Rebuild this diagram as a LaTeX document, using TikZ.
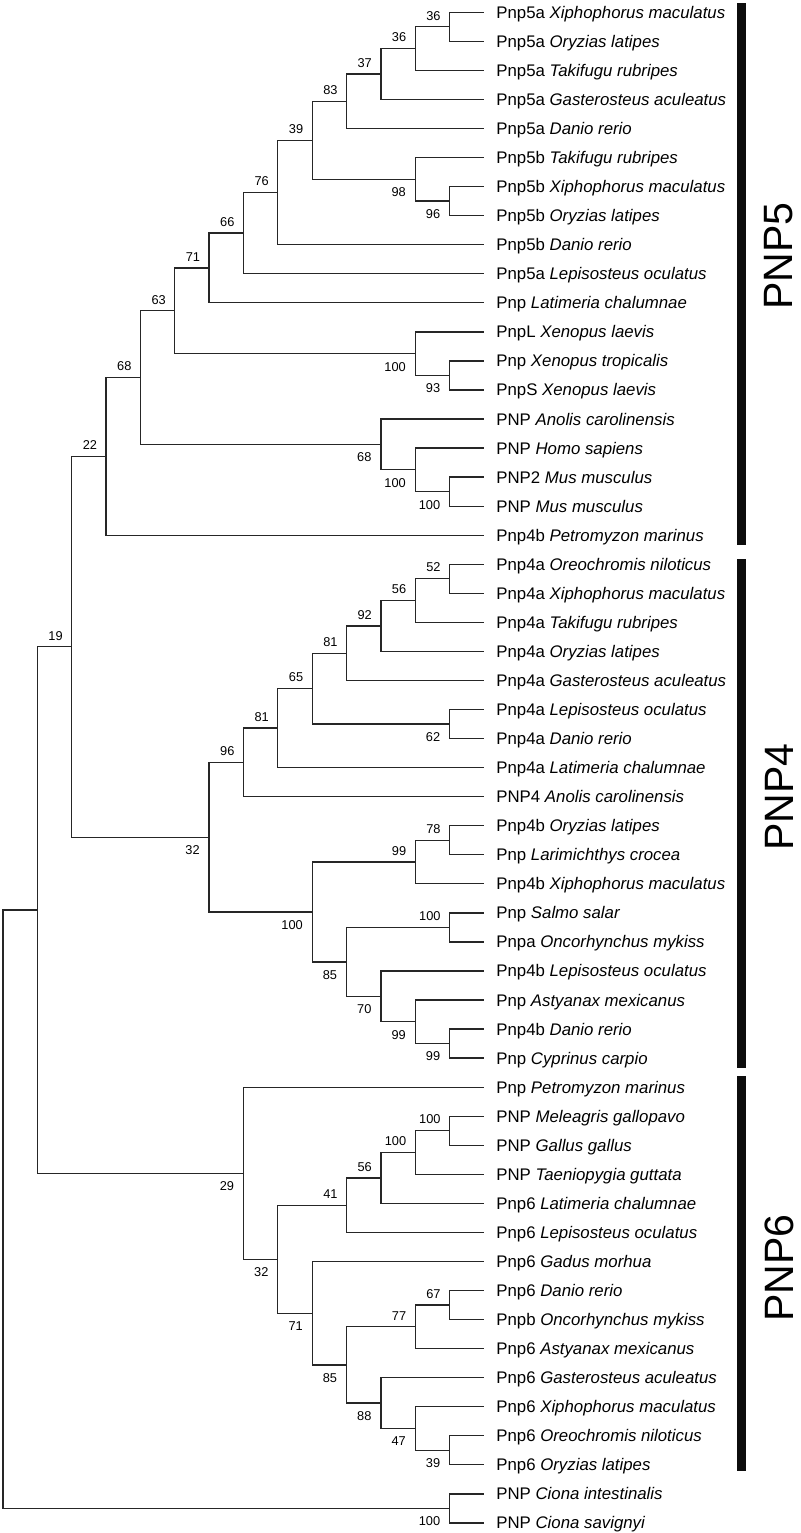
\documentclass[tikz,border=0pt]{standalone}
\usepackage{fontspec}
\setmainfont{Liberation Sans}
\usepackage{tikz}
\usetikzlibrary{calc}

% inner node at a given level, halfway between its two children
\newcommand{\joint}[4]{%
	\path let \p1 = ($(#3)!0.5!(#4)$), \p2 = ({3+#2*34.35},0) in (\x2,\y1) coordinate (#1);
	\draw[branch] (#1) |- (#3);
	\draw[branch] (#1) |- (#4);
}
% same, with its bootstrap value
\newcommand{\clade}[6]{%
	\joint{#1}{#2}{#3}{#4}
	\node[#6] (#1v) at (#1) {#5};
}

\begin{document}
\begin{tikzpicture}[
		x=0.5pt,
		y=-0.5pt,
		branch/.style={line width=0.65pt, black!85},
		leaf/.style={anchor=base west, inner sep=0pt, xshift=6pt, yshift=-3pt, font=\fontsize{8.4}{10}\selectfont},
		boot up/.style={anchor=east, inner sep=0pt, xshift=-4.3pt, yshift=5.6pt, font=\fontsize{6.4}{7}\selectfont},
		boot down/.style={anchor=east, inner sep=0pt, xshift=-4.5pt, yshift=-6.5pt, font=\fontsize{6.4}{7}\selectfont},
		group/.style={rotate=90, inner sep=0pt, font=\fontsize{20.5}{22}\selectfont},
		bar/.style={fill=black!95}
		]
	\useasboundingbox (0,0) rectangle (800,1533);

	% Leaves
	\foreach \i/\gene/\spec in {
		1/Pnp5a/Xiphophorus maculatus, 2/Pnp5a/Oryzias latipes, 3/Pnp5a/Takifugu rubripes,
		4/Pnp5a/Gasterosteus aculeatus, 5/Pnp5a/Danio rerio, 6/Pnp5b/Takifugu rubripes,
		7/Pnp5b/Xiphophorus maculatus, 8/Pnp5b/Oryzias latipes, 9/Pnp5b/Danio rerio,
		10/Pnp5a/Lepisosteus oculatus, 11/Pnp/Latimeria chalumnae, 12/PnpL/Xenopus laevis,
		13/Pnp/Xenopus tropicalis, 14/PnpS/Xenopus laevis, 15/PNP/Anolis carolinensis,
		16/PNP/Homo sapiens, 17/PNP2/Mus musculus, 18/PNP/Mus musculus,
		19/Pnp4b/Petromyzon marinus, 20/Pnp4a/Oreochromis niloticus, 21/Pnp4a/Xiphophorus maculatus,
		22/Pnp4a/Takifugu rubripes, 23/Pnp4a/Oryzias latipes, 24/Pnp4a/Gasterosteus aculeatus,
		25/Pnp4a/Lepisosteus oculatus, 26/Pnp4a/Danio rerio, 27/Pnp4a/Latimeria chalumnae,
		28/PNP4/Anolis carolinensis, 29/Pnp4b/Oryzias latipes, 30/Pnp/Larimichthys crocea,
		31/Pnp4b/Xiphophorus maculatus, 32/Pnp/Salmo salar, 33/Pnpa/Oncorhynchus mykiss,
		34/Pnp4b/Lepisosteus oculatus, 35/Pnp/Astyanax mexicanus, 36/Pnp4b/Danio rerio,
		37/Pnp/Cyprinus carpio, 38/Pnp/Petromyzon marinus, 39/PNP/Meleagris gallopavo,
		40/PNP/Gallus gallus, 41/PNP/Taeniopygia guttata, 42/Pnp6/Latimeria chalumnae,
		43/Pnp6/Lepisosteus oculatus, 44/Pnp6/Gadus morhua, 45/Pnp6/Danio rerio,
		46/Pnpb/Oncorhynchus mykiss, 47/Pnp6/Astyanax mexicanus, 48/Pnp6/Gasterosteus aculeatus,
		49/Pnp6/Xiphophorus maculatus, 50/Pnp6/Oreochromis niloticus, 51/Pnp6/Oryzias latipes,
		52/PNP/Ciona intestinalis, 53/PNP/Ciona savignyi}{
		\coordinate (t\i) at (484, {12.3+(\i-1)*29.05});
		\node[leaf] (n\i) at (t\i) {\gene\ \textit{\spec}};
	}

	% PNP5
	\clade{c1}{13}{t1}{t2}{36}{boot up}
	\clade{c2}{12}{c1}{t3}{36}{boot up}
	\clade{c3}{11}{c2}{t4}{37}{boot up}
	\clade{c4}{10}{c3}{t5}{83}{boot up}
	\clade{c5}{13}{t7}{t8}{96}{boot down}
	\clade{c6}{12}{t6}{c5}{98}{boot down}
	\clade{c7}{9}{c4}{c6}{39}{boot up}
	\clade{c8}{8}{c7}{t9}{76}{boot up}
	\clade{c9}{7}{c8}{t10}{66}{boot up}
	\clade{c10}{6}{c9}{t11}{71}{boot up}
	\clade{c11}{13}{t13}{t14}{93}{boot down}
	\clade{c12}{12}{t12}{c11}{100}{boot down}
	\clade{c13}{5}{c10}{c12}{63}{boot up}
	\clade{c14}{13}{t17}{t18}{100}{boot down}
	\clade{c15}{12}{t16}{c14}{100}{boot down}
	\clade{c16}{11}{t15}{c15}{68}{boot down}
	\clade{c17}{4}{c13}{c16}{68}{boot up}
	\clade{c18}{3}{c17}{t19}{22}{boot up}

	% PNP4
	\clade{d1}{13}{t20}{t21}{52}{boot up}
	\clade{d2}{12}{d1}{t22}{56}{boot up}
	\clade{d3}{11}{d2}{t23}{92}{boot up}
	\clade{d4}{10}{d3}{t24}{81}{boot up}
	\clade{d5}{13}{t25}{t26}{62}{boot down}
	\clade{d6}{9}{d4}{d5}{65}{boot up}
	\clade{d7}{8}{d6}{t27}{81}{boot up}
	\clade{d8}{7}{d7}{t28}{96}{boot up}
	\clade{d9}{13}{t29}{t30}{78}{boot up}
	\clade{d10}{12}{d9}{t31}{99}{boot up}
	\clade{d11}{13}{t32}{t33}{100}{boot up}
	\clade{d12}{13}{t36}{t37}{99}{boot down}
	\clade{d13}{12}{t35}{d12}{99}{boot down}
	\clade{d14}{11}{t34}{d13}{70}{boot down}
	\clade{d15}{10}{d11}{d14}{85}{boot down}
	\clade{d16}{9}{d10}{d15}{100}{boot down}
	\clade{d17}{6}{d8}{d16}{32}{boot down}
	\clade{b}{2}{c18}{d17}{19}{boot up}

	% PNP6
	\clade{e1}{13}{t39}{t40}{100}{boot up}
	\clade{e2}{12}{e1}{t41}{100}{boot up}
	\clade{e3}{11}{e2}{t42}{56}{boot up}
	\clade{e4}{10}{e3}{t43}{41}{boot up}
	\clade{e5}{13}{t45}{t46}{67}{boot up}
	\clade{e6}{12}{e5}{t47}{77}{boot up}
	\clade{e7}{13}{t50}{t51}{39}{boot down}
	\clade{e8}{12}{t49}{e7}{47}{boot down}
	\clade{e9}{11}{t48}{e8}{88}{boot down}
	\clade{e10}{10}{e6}{e9}{85}{boot down}
	\clade{e11}{9}{t44}{e10}{71}{boot down}
	\clade{e12}{8}{e4}{e11}{32}{boot down}
	\clade{e13}{7}{t38}{e12}{29}{boot down}

	% Root and Ciona
	\joint{a}{1}{b}{e13}
	\clade{f}{13}{t52}{t53}{100}{boot down}
	\joint{root}{0}{a}{f}

	% Group bars
	\fill[bar] (737,3) rectangle (746,545);
	\fill[bar] (737,559) rectangle (746,1068);
	\fill[bar] (737,1076) rectangle (746,1471);
	\node[group] (pnp5) at (779,256) {PNP5};
	\node[group] (pnp4) at (779,797) {PNP4};
	\node[group] (pnp6) at (779,1268) {PNP6};

\end{tikzpicture}
\end{document}
